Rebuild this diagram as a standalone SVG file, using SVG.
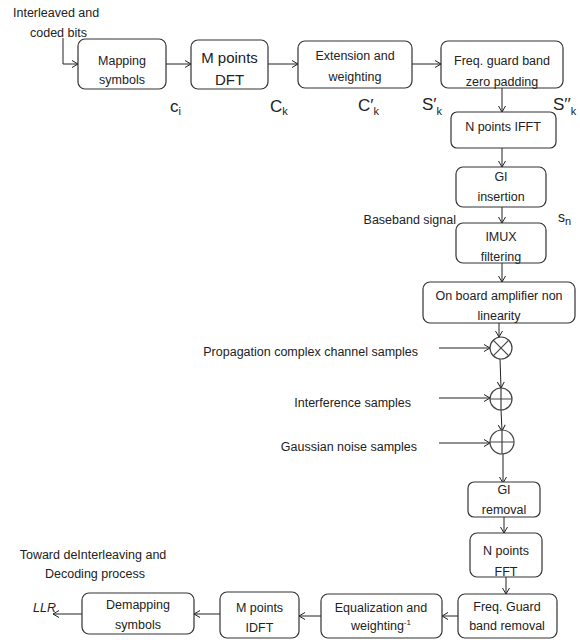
<svg xmlns="http://www.w3.org/2000/svg" width="580" height="640" viewBox="0 0 580 640">
<defs>
<marker id="ah" markerWidth="8" markerHeight="8" refX="7" refY="4" orient="auto" markerUnits="userSpaceOnUse">
<path d="M1,0.5 L7,4 L1,7.5" fill="none" stroke="#222" stroke-width="1"/>
</marker>
<style>
.box{fill:#fff;stroke:#333;stroke-width:1.2}
.t{font-family:"Liberation Sans",Arial,sans-serif;font-size:12.5px;fill:#222;text-anchor:middle}
.l{font-family:"Liberation Sans",Arial,sans-serif;font-size:12.5px;fill:#222}
.sym{font-family:"Liberation Sans",Arial,sans-serif;font-size:17px;fill:#222}
.sub{font-size:11px}
.c{fill:none;stroke:#222;stroke-width:1;marker-end:url(#ah)}
.op{fill:#fff;stroke:#444;stroke-width:1.2}
</style>
</defs>
<rect width="580" height="640" fill="#fff"/>

<g id="connectors">
<path class="c" d="M63,38 V64 H78"/>
<path class="c" d="M166,64 H191"/>
<path class="c" d="M268,64 H298"/>
<path class="c" d="M412,64 H441"/>
<path class="c" d="M502,88 V112"/>
<path class="c" d="M502,148 V167"/>
<path class="c" d="M502,207 V223"/>
<path class="c" d="M502,263 V282"/>
<path class="c" d="M499,323 V337"/>
<path class="c" d="M500,359 L501,388"/>
<path class="c" d="M501,410 L502,431"/>
<path class="c" d="M503,454 V483"/>
<path class="c" d="M504,517 V533"/>
<path class="c" d="M506,577 V594"/>
<path class="c" d="M458,616 H442"/>
<path class="c" d="M321,616 H299"/>
<path class="c" d="M220,614 H194"/>
<path class="c" d="M82,614 H53"/>
<path class="c" d="M439,348 H490"/>
<path class="c" d="M439,398 H490"/>
<path class="c" d="M439,443 H490"/>
</g>

<g id="input-label">
<text class="l" x="13" y="17">Interleaved and</text>
<text class="l" x="30" y="37">coded bits</text>
</g>

<g id="mapping">
<rect class="box" x="78" y="39" width="88" height="50" rx="7"/>
<text class="t" x="122" y="65">Mapping</text>
<text class="t" x="122" y="84">symbols</text>
</g>
<g id="dft">
<rect class="box" x="191" y="40" width="77" height="49" rx="7"/>
<text class="t" x="229.500" y="63" style="font-size:15px">M points</text>
<text class="t" x="229.500" y="85" style="font-size:15px">DFT</text>
</g>
<g id="extension">
<rect class="box" x="298" y="41" width="114" height="47" rx="7"/>
<text class="t" x="355" y="60">Extension and</text>
<text class="t" x="355" y="81">weighting</text>
</g>
<g id="freq-pad">
<rect class="box" x="441" y="41" width="122" height="47" rx="7"/>
<text class="t" x="502" y="65">Freq. guard band</text>
<text class="t" x="502" y="86">zero padding</text>
</g>

<g id="labels-top">
<text class="sym" x="170" y="112">c<tspan class="sub" dy="3">i</tspan></text>
<text class="sym" x="270" y="112">C<tspan class="sub" dy="3">k</tspan></text>
<text class="sym" x="358" y="111">C′<tspan class="sub" dy="4">k</tspan></text>
<text class="sym" x="422" y="110">S′<tspan class="sub" dy="5">k</tspan></text>
<text class="sym" x="553" y="110">S′′<tspan class="sub" dy="5">k</tspan></text>
<text class="sym" x="558" y="222" style="font-size:14px">s<tspan class="sub" dy="3">n</tspan></text>
</g>

<g id="ifft">
<rect class="box" x="451" y="112" width="105" height="36" rx="6"/>
<text class="t" x="503" y="131">N points IFFT</text>
</g>
<g id="gi-insertion">
<rect class="box" x="456" y="167" width="90" height="40" rx="7"/>
<text class="t" x="501" y="181">GI</text>
<text class="t" x="501" y="201">insertion</text>
</g>
<text class="l" x="456" y="224" style="text-anchor:end">Baseband signal</text>
<g id="imux">
<rect class="box" x="456" y="223" width="90" height="40" rx="7"/>
<text class="t" x="501" y="241">IMUX</text>
<text class="t" x="501" y="261">filtering</text>
</g>
<g id="amplifier">
<rect class="box" x="423" y="282" width="152" height="41" rx="7"/>
<text class="t" x="499" y="300">On board amplifier non</text>
<text class="t" x="499" y="320">linearity</text>
</g>

<g id="mult">
<circle class="op" cx="501" cy="348" r="11"/>
<path d="M493.200,340.200 L508.800,355.800 M508.800,340.200 L493.200,355.800" stroke="#444" stroke-width="1.2"/>
</g>
<g id="add1">
<circle class="op" cx="501" cy="399" r="11"/>
<path d="M490,399 H512 M501,388 V410" stroke="#444" stroke-width="1.2"/>
</g>
<g id="add2">
<circle class="op" cx="502" cy="442" r="12"/>
<path d="M490,442 H514 M502,430 V454" stroke="#444" stroke-width="1.2"/>
</g>
<g id="side-labels">
<text class="l" x="418" y="356" style="text-anchor:end">Propagation complex channel samples</text>
<text class="l" x="411" y="407" style="text-anchor:end">Interference samples</text>
<text class="l" x="417" y="451" style="text-anchor:end">Gaussian noise samples</text>
</g>

<g id="gi-removal">
<rect class="box" x="468" y="482" width="72" height="35" rx="6"/>
<text class="t" x="504" y="494">GI</text>
<text class="t" x="504" y="514">removal</text>
</g>
<g id="fft">
<rect class="box" x="470" y="533" width="72" height="44" rx="7"/>
<text class="t" x="506" y="555">N points</text>
<text class="t" x="506" y="576">FFT</text>
</g>
<g id="freq-removal">
<rect class="box" x="458" y="594" width="99" height="44" rx="7"/>
<text class="t" x="507" y="611">Freq. Guard</text>
<text class="t" x="507" y="630">band removal</text>
</g>
<g id="equalization">
<rect class="box" x="321" y="594" width="121" height="44" rx="7"/>
<text class="t" x="381" y="612">Equalization and</text>
<text class="t" x="381" y="630">weighting<tspan font-size="8" dy="-5">-1</tspan></text>
</g>
<g id="idft">
<rect class="box" x="220" y="592" width="79" height="46" rx="7"/>
<text class="t" x="259.500" y="612">M points</text>
<text class="t" x="259.500" y="632">IDFT</text>
</g>
<g id="demapping">
<rect class="box" x="82" y="593" width="112" height="41" rx="7"/>
<text class="t" x="138" y="609">Demapping</text>
<text class="t" x="138" y="629">symbols</text>
</g>
<g id="output-label">
<text class="l" x="33" y="612" font-style="italic">LLR</text>
<text class="t" x="93" y="559">Toward deInterleaving and</text>
<text class="t" x="95" y="578">Decoding process</text>
</g>
</svg>
